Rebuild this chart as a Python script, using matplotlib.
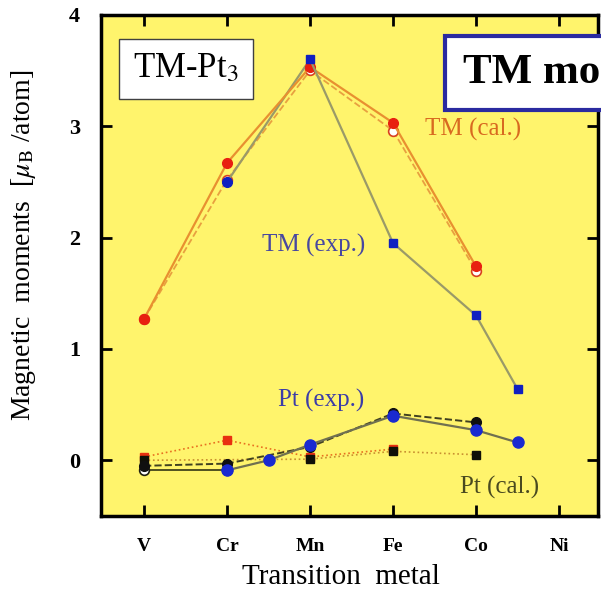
import matplotlib
matplotlib.use("Agg")
import matplotlib.pyplot as plt

plt.rcParams['font.family'] = ['Liberation Serif', 'DejaVu Serif']
plt.rcParams['mathtext.fontset'] = 'stix'

elements = ["V", "Cr", "Mn", "Fe", "Co", "Ni"]
elem_pos = [1, 2, 3, 4, 5, 6]

# transition-metal moments
tm_cal_x = [1, 2, 3, 4, 5]
tm_cal_y = [1.27, 2.67, 3.53, 3.03, 1.74]
tm_cal2_x = [1, 2, 3, 4, 5]
tm_cal2_y = [1.27, 2.52, 3.50, 2.96, 1.70]
tm_exp_x = [2, 3, 4, 5, 5.5]
tm_exp_y = [2.50, 3.60, 1.95, 1.30, 0.64]

# Pt moments
pt_exp_x = [2, 2.5, 3, 4, 5, 5.5]
pt_exp_y = [-0.09, 0.00, 0.14, 0.40, 0.27, 0.16]
pt_cal_x = [1, 2, 3, 4, 5]
pt_cal_y = [-0.05, -0.03, 0.12, 0.42, 0.34]
pt_cal2_x = [1, 2]
pt_cal2_y = [-0.09, -0.09]
pt_sq_x = [1, 3, 4, 5]
pt_sq_y = [0.00, 0.01, 0.08, 0.05]
pt_sq2_x = [1, 2, 3, 4]
pt_sq2_y = [0.03, 0.18, 0.03, 0.10]

fig = plt.figure(figsize=(6.01, 5.91), dpi=100)
ax = fig.add_axes([0.168, 0.127, 0.827, 0.848])
ax.set_facecolor('#fff46c')

# TM curves
ax.plot(tm_cal2_x, tm_cal2_y, '--', color='#e8a040', lw=1.3, marker='o', ms=7,
        mfc='white', mec='#d84020', mew=1.2, zorder=3)
ax.plot(tm_cal_x, tm_cal_y, '-', color='#e89030', lw=1.6, marker='o', ms=7,
        mfc='#e82010', mec='#e82010', zorder=4)
ax.plot(tm_exp_x[1:], tm_exp_y[1:], '-', color='#9a9a68', lw=1.6, marker='s', ms=6,
        mfc='#1020c0', mec='#1020c0', zorder=4)
ax.plot(tm_exp_x[:2], tm_exp_y[:2], '-', color='#9a9a68', lw=1.6, zorder=3)
ax.plot(tm_exp_x[0], tm_exp_y[0], 'o', ms=7, mfc='#1020c0', mec='#1020c0', zorder=5)

# Pt curves
ax.plot(pt_sq2_x, pt_sq2_y, ':', color='#e87020', lw=1.2, marker='s', ms=6,
        mfc='#e83010', mec='#e83010', zorder=3)
ax.plot(pt_sq_x, pt_sq_y, ':', color='#c89030', lw=1.2, marker='s', ms=6,
        mfc='#101008', mec='#101008', zorder=4)
ax.plot(pt_cal2_x, pt_cal2_y, '-', color='#505020', lw=1.4, marker='o', ms=7,
        mfc='white', mec='#202010', mew=1.2, zorder=3)
ax.plot(pt_cal_x, pt_cal_y, '--', color='#404020', lw=1.4, marker='o', ms=7,
        mfc='#101010', mec='#101010', zorder=4)
ax.plot(pt_exp_x, pt_exp_y, '-', color='#707050', lw=1.6, marker='o', ms=8,
        mfc='#1a2ad0', mec='#1a2ad0', zorder=5)

ax.set_xlim(0.48, 6.47)
ax.set_ylim(-0.5, 4)
ax.set_xticks(elem_pos)
ax.set_xticklabels(elements, fontweight='bold', fontsize=14)
ax.set_yticks([0, 1, 2, 3, 4])
ax.set_yticklabels(['0', '1', '2', '3', '4'], fontweight='bold', fontsize=16)
ax.tick_params(direction='in', length=8, width=2, top=True, right=True)
ax.tick_params(axis='x', pad=16)
ax.tick_params(axis='y', pad=15)
for s in ax.spines.values():
    s.set_linewidth(2.5)

ax.set_xlabel("Transition  metal", fontsize=21)
ax.xaxis.set_label_coords(0.483, -0.095)
ax.set_ylabel(r"Magnetic  moments  [$\mu_{\rm B}$ /atom]", fontsize=20)
ax.yaxis.set_label_coords(-0.127, 0.541)

ax.text(4.39, 2.97, "TM (cal.)", color='#d86a20', fontsize=18, va='center')
ax.text(2.42, 1.93, "TM (exp.)", color='#4848a0', fontsize=18, va='center')
ax.text(2.61, 0.54, "Pt (exp.)", color='#3c3ca8', fontsize=18, va='center')
ax.text(4.81, -0.245, "Pt (cal.)", color='#4a4a20', fontsize=18, va='center')

fig.text(186 / 601, 1 - 69 / 591, r"TM-Pt$_3$", fontsize=25, ha='center', va='center',
         bbox=dict(boxstyle='square,pad=0.4', fc='white', ec='#404040', lw=1))
fig.text(463 / 601, 1 - 73 / 591, "TM moments", fontsize=31, fontweight='bold',
         ha='left', va='center',
         bbox=dict(boxstyle='square,pad=0.42', fc='white', ec='#2a2aa0', lw=3))

fig.savefig("out.png", dpi=100)
